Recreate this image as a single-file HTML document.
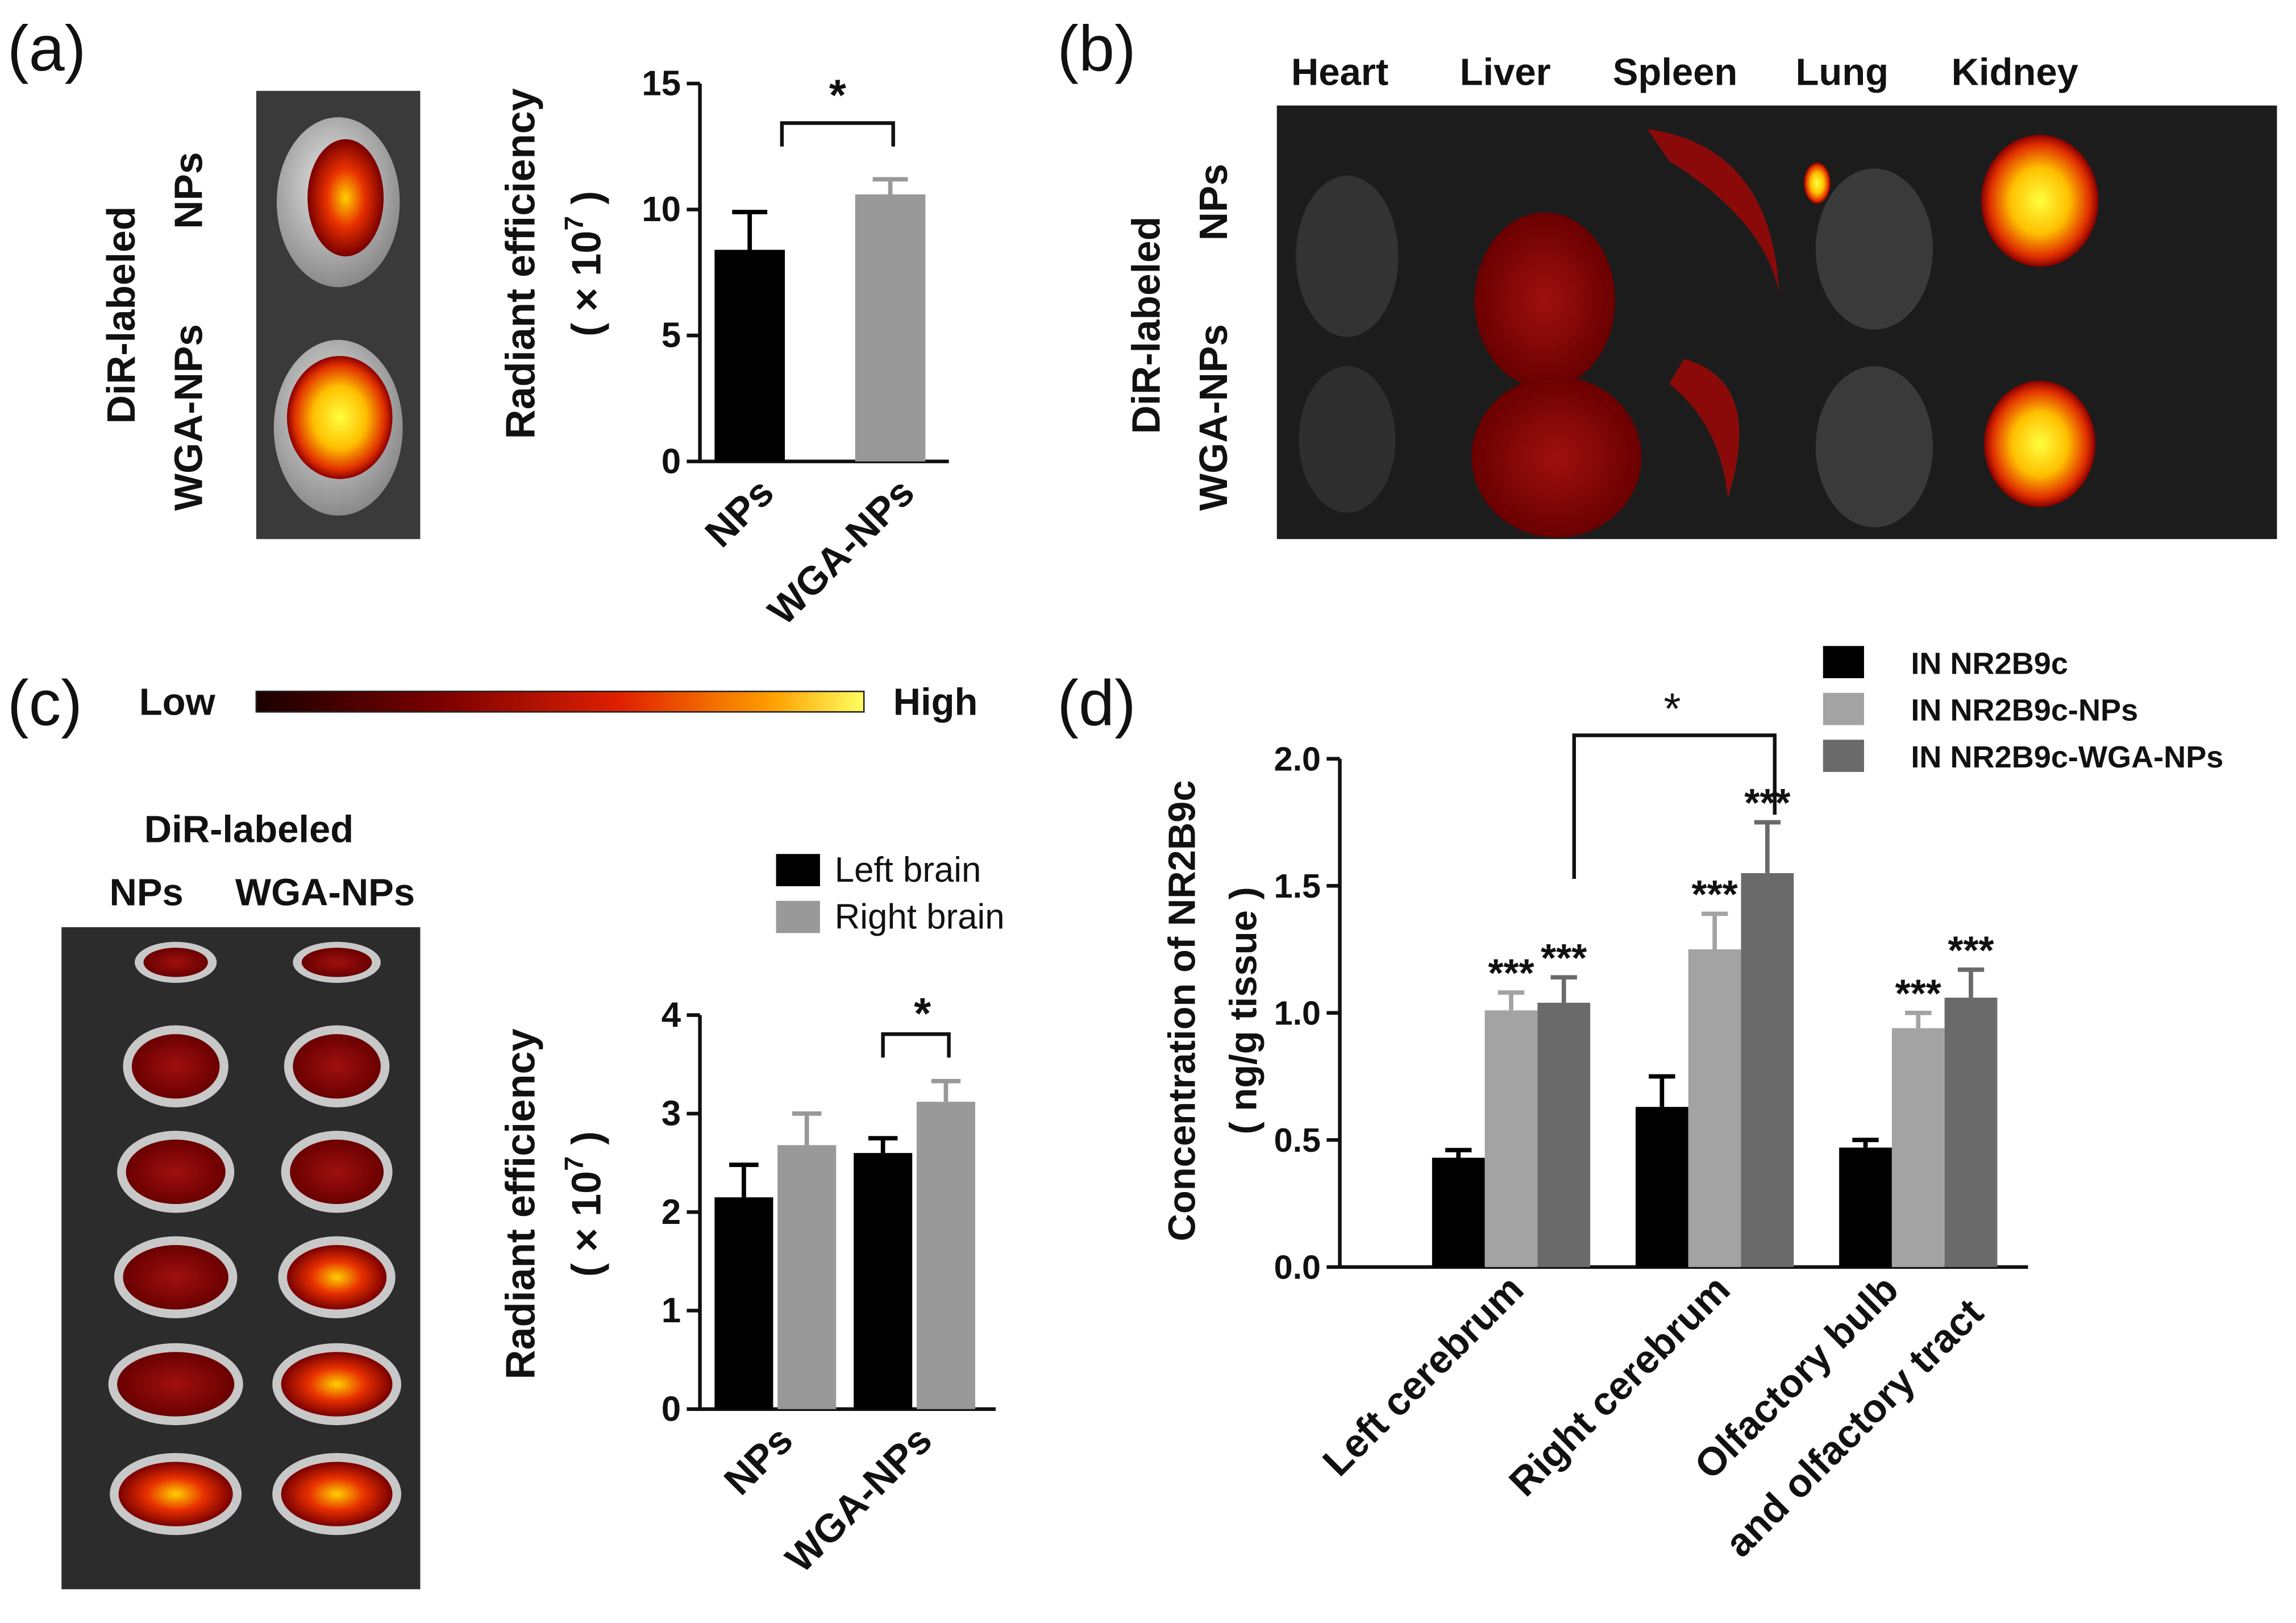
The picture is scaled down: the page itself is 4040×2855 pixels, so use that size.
<!DOCTYPE html>
<html><head><meta charset="utf-8">
<style>
html,body{margin:0;padding:0;background:#fff;}
svg{display:block;}
text{font-family:"Liberation Sans",Arial,sans-serif;fill:#111;}
.b{font-weight:bold;}
</style></head>
<body>
<svg id="fig" width="4040" height="2855" viewBox="0 0 1568 1108" xmlns="http://www.w3.org/2000/svg">
<defs>
<radialGradient id="hot" cx="50%" cy="50%" r="50%"><stop offset="0" stop-color="#ffff40"/><stop offset="0.5" stop-color="#ffc000"/><stop offset="0.85" stop-color="#e03000"/><stop offset="1" stop-color="#8a0000"/></radialGradient>
<radialGradient id="hot2" cx="50%" cy="50%" r="50%"><stop offset="0" stop-color="#ffd000"/><stop offset="0.5" stop-color="#e83000"/><stop offset="1" stop-color="#7a0000"/></radialGradient>
<radialGradient id="red" cx="50%" cy="50%" r="50%"><stop offset="0" stop-color="#a01010"/><stop offset="1" stop-color="#6a0000"/></radialGradient>
<radialGradient id="grey" cx="45%" cy="40%" r="60%"><stop offset="0" stop-color="#e8e8e8"/><stop offset="1" stop-color="#8a8a8a"/></radialGradient>
<linearGradient id="cbar" x1="0" x2="1"><stop offset="0" stop-color="#1a0000"/><stop offset="0.3" stop-color="#7a0000"/><stop offset="0.6" stop-color="#e02000"/><stop offset="0.85" stop-color="#ffa000"/><stop offset="1" stop-color="#ffff60"/></linearGradient>
</defs>

<!-- Panel a -->
<text x="5" y="48" font-size="44">(a)</text>
<g>
<rect x="175" y="62" width="112" height="306" fill="#3a3a3a"/>
<ellipse cx="231" cy="138" rx="42" ry="58" fill="url(#grey)"/>
<ellipse cx="236" cy="135" rx="26" ry="40" fill="url(#hot2)"/>
<ellipse cx="231" cy="292" rx="44" ry="60" fill="url(#grey)"/>
<ellipse cx="232" cy="285" rx="36" ry="42" fill="url(#hot)"/>
</g>
<text class="b" font-size="27" transform="translate(92,215) rotate(-90)" text-anchor="middle">DiR-labeled</text>
<text class="b" font-size="27" transform="translate(138,130) rotate(-90)" text-anchor="middle">NPs</text>
<text class="b" font-size="27" transform="translate(138,285) rotate(-90)" text-anchor="middle">WGA-NPs</text>
<g id="chartA"></g>

<!-- Panel b -->
<text x="722" y="48" font-size="44">(b)</text>
<g class="b" font-size="26" text-anchor="middle">
<text x="915" y="58" class="b">Heart</text><text x="1028" y="58" class="b">Liver</text><text x="1144" y="58" class="b">Spleen</text><text x="1258" y="58" class="b">Lung</text><text x="1376" y="58" class="b">Kidney</text>
</g>
<text class="b" font-size="27" transform="translate(792,222) rotate(-90)" text-anchor="middle">DiR-labeled</text>
<text class="b" font-size="27" transform="translate(838,138) rotate(-90)" text-anchor="middle">NPs</text>
<text class="b" font-size="27" transform="translate(838,285) rotate(-90)" text-anchor="middle">WGA-NPs</text>
<g>
<rect x="872" y="72" width="683" height="296" fill="#1c1c1c"/>
<ellipse cx="920" cy="175" rx="35" ry="55" fill="#333"/>
<ellipse cx="920" cy="300" rx="33" ry="50" fill="#2e2e2e"/>
<ellipse cx="1055" cy="205" rx="48" ry="60" fill="url(#red)"/>
<ellipse cx="1063" cy="312" rx="58" ry="55" fill="url(#red)"/>
<path d="M1125,88 Q1210,100 1215,200 Q1205,150 1140,110 Z" fill="#8a0a0a"/>
<path d="M1150,245 Q1205,260 1180,340 Q1175,290 1140,262 Z" fill="#8a0a0a"/>
<ellipse cx="1280" cy="170" rx="40" ry="55" fill="#3a3a3a"/>
<ellipse cx="1280" cy="305" rx="40" ry="55" fill="#3a3a3a"/>
<ellipse cx="1241" cy="125" rx="9" ry="14" fill="url(#hot)"/>
<ellipse cx="1393" cy="137" rx="40" ry="45" fill="url(#hot)"/>
<ellipse cx="1393" cy="303" rx="38" ry="43" fill="url(#hot)"/>
</g>

<!-- Panel c -->
<text x="5" y="495" font-size="44">(c)</text>
<text class="b" x="95" y="488" font-size="26">Low</text>
<rect x="175" y="472" width="415" height="14" fill="url(#cbar)" stroke="#222" stroke-width="1"/>
<text class="b" x="610" y="488" font-size="26">High</text>
<text class="b" x="170" y="575" font-size="26" text-anchor="middle">DiR-labeled</text>
<text class="b" x="100" y="618" font-size="26" text-anchor="middle">NPs</text>
<text class="b" x="222" y="618" font-size="26" text-anchor="middle">WGA-NPs</text>
<g id="slices"><rect x="42" y="633" width="245" height="452" fill="#2c2c2c"/></g>
<g id="chartC"></g>

<!-- Panel d -->
<text x="722" y="495" font-size="44">(d)</text>
<g id="chartD"></g>
</svg>
<script>
const NS="http://www.w3.org/2000/svg";
function mk(p,tag,at,txt){const e=document.createElementNS(NS,tag);for(const k in at)e.setAttribute(k,at[k]);if(txt!==undefined)e.textContent=txt;p.appendChild(e);return e;}

// brain slices
const sl=document.getElementById('slices');
const sliceRows=[657,728,800,872,945,1020];
const sliceW=[[28,36,40,42,46,45],[30,36,38,40,44,44]];
const sliceFill=['url(#red)','url(#red)','url(#red)','url(#red)','url(#red)','url(#hot2)'];
sliceRows.forEach((y,i)=>{[120,230].forEach((x,j)=>{
 const o=mk(sl,'ellipse',{cx:x,cy:y,rx:sliceW[j][i],ry:i===0?14:28,fill:'#c8c8c8'});
 
 const f=mk(sl,'ellipse',{cx:x,cy:y,rx:sliceW[j][i]-6,ry:i===0?10:22,fill:(j===1&&i>=3)?'url(#hot2)':sliceFill[i]});
 
});});

// Chart A data
const aCats=['NPs','WGA-NPs'];
const aVals=[8.4,10.6];
const aErr=[1.5,0.6];
const aTicks=[0,5,10,15];
// Chart C data
const cCats=['NPs','WGA-NPs'];
const cLeft=[2.15,2.6];
const cLeftErr=[0.33,0.15];
const cRight=[2.68,3.12];
const cRightErr=[0.32,0.21];
const cTicks=[0,1,2,3,4];
// Chart D data
const dCats=['Left cerebrum','Right cerebrum','Olfactory bulb'];
const dS1=[0.43,0.63,0.47];
const dS1Err=[0.03,0.12,0.03];
const dS2=[1.01,1.25,0.94];
const dS2Err=[0.07,0.14,0.06];
const dS3=[1.04,1.55,1.06];
const dS3Err=[0.10,0.20,0.11];
const dTicks=[0,0.5,1.0,1.5,2.0];
const dTickLabels=['0.0','0.5','1.0','1.5','2.0'];

function axisY(g,x0,yf,ticks,labels,fs){
 const l=mk(g,'line',{x1:x0,x2:x0,y1:yf(ticks[0])+1,y2:yf(ticks[ticks.length-1]),stroke:'#111','stroke-width':2.5});
 
 ticks.forEach((t,i)=>{
  const tk=mk(g,'line',{x1:x0-9,x2:x0,y1:yf(t),y2:yf(t),stroke:'#111','stroke-width':2.5});
  
  const tx=mk(g,'text',{x:x0-13,y:yf(t)+8,'font-size':fs,'text-anchor':'end','class':'b'},labels?labels[i]:String(t));
  
 });
}
function bar(g,x,w,yf,v,e,fill,name){
 const r=mk(g,'rect',{x:x,y:yf(v),width:w,height:yf(0)-yf(v),fill:fill});
 
 const c=x+w/2;
 const el=mk(g,'path',{d:`M${c},${yf(v)} V${yf(v+e)} M${c-w*0.25},${yf(v+e)} H${c+w*0.25}`,stroke:fill,'stroke-width':3,fill:'none'});
 
}
function xlabel(g,x,y,t,fs){
 const tx=mk(g,'text',{transform:`translate(${x},${y}) rotate(-45)`,'font-size':fs,'text-anchor':'end','class':'b'},t);
 
}
function ylab(g,x,y,t,fs){
 const tx=mk(g,'text',{transform:`translate(${x},${y}) rotate(-90)`,'font-size':fs,'text-anchor':'middle','class':'b'},t);
 
 return tx;
}

// Chart A
(function(){
 const g=document.getElementById('chartA');
 const yf=v=>315-v*(315-57)/15;
 axisY(g,478,yf,aTicks,null,24);
 const xa=mk(g,'line',{x1:477,x2:648,y1:315,y2:315,stroke:'#111','stroke-width':2.5});
 
 const xs=[488,584];const cols=['#000','#999'];
 aCats.forEach((c,i)=>{bar(g,xs[i],48,yf,aVals[i],aErr[i],cols[i],'bar-'+c.toLowerCase());
  xlabel(g,xs[i]+42,338,c,27);});
 ylab(g,365,180,'Radiant efficiency',28);
 const t=ylab(g,410,180,'( × 10',28);mk(t,'tspan',{dy:-12,'font-size':18},'7');mk(t,'tspan',{dy:12},' )');
 const br=mk(g,'path',{d:'M534,100 V84 H610 V100',stroke:'#111','stroke-width':2.5,fill:'none'});
 
 const st=mk(g,'text',{x:572,y:75,'font-size':30,'text-anchor':'middle','class':'b'},'*');
 
})();

// Chart C
(function(){
 const g=document.getElementById('chartC');
 const yf=v=>962-v*(962-693)/4;
 axisY(g,478,yf,cTicks,null,24);
 const xa=mk(g,'line',{x1:477,x2:680,y1:962,y2:962,stroke:'#111','stroke-width':2.5});
 
 const gx=[488,583];
 cCats.forEach((c,i)=>{
  bar(g,gx[i],40,yf,cLeft[i],cLeftErr[i],'#000','bar-left-'+c.toLowerCase());
  bar(g,gx[i]+43,40,yf,cRight[i],cRightErr[i],'#999','bar-right-'+c.toLowerCase());
  xlabel(g,gx[i]+55,985,c,27);
 });
 ylab(g,365,822,'Radiant efficiency',28);
 const t=ylab(g,410,822,'( × 10',28);mk(t,'tspan',{dy:-12,'font-size':18},'7');mk(t,'tspan',{dy:12},' )');
 const l1=mk(g,'rect',{x:530,y:583,width:30,height:22,fill:'#000'});
 const t1=mk(g,'text',{x:570,y:602,'font-size':24},'Left brain');
 const l2=mk(g,'rect',{x:530,y:615,width:30,height:22,fill:'#999'});
 const t2=mk(g,'text',{x:570,y:634,'font-size':24},'Right brain');
 const br=mk(g,'path',{d:'M603,722 V706 H648 V722',stroke:'#111','stroke-width':2.5,fill:'none'});
 
 const st=mk(g,'text',{x:630,y:702,'font-size':30,'text-anchor':'middle','class':'b'},'*');
 
})();

// Chart D
(function(){
 const g=document.getElementById('chartD');
 const yf=v=>865-v*(865-518)/2;
 axisY(g,915,yf,dTicks,dTickLabels,23);
 const xa=mk(g,'line',{x1:914,x2:1385,y1:865,y2:865,stroke:'#111','stroke-width':2.5});
 
 const gx=[978,1117,1256];const w=36;
 dCats.forEach((c,i)=>{
  const n=c.toLowerCase().replace(/ /g,'-');
  bar(g,gx[i],w,yf,dS1[i],dS1Err[i],'#000','bar-in-'+n);
  bar(g,gx[i]+w,w,yf,dS2[i],dS2Err[i],'#a3a3a3','bar-nps-'+n);
  bar(g,gx[i]+2*w,w,yf,dS3[i],dS3Err[i],'#6a6a6a','bar-wga-'+n);
  [[dS2,dS2Err,1],[dS3,dS3Err,2]].forEach(([s,e,k])=>{
   const st=mk(g,'text',{x:gx[i]+k*w+w/2,y:yf(s[i]+e[i])-4,'font-size':27,'text-anchor':'middle','class':'b'},'***');
   
  });
 });
 xlabel(g,1042,882,'Left cerebrum',27);
 xlabel(g,1183,882,'Right cerebrum',27);
 xlabel(g,1298,882,'Olfactory bulb',27);
 xlabel(g,1356,898,'and olfactory tract',27);
 ylab(g,816,690,'Concentration of NR2B9c',26);
 ylab(g,858,690,'( ng/g tissue )',26);
 const br=mk(g,'path',{d:`M1075,600 V502 H1212 V${yf(1.78)}`,stroke:'#111','stroke-width':2.5,fill:'none'});
 
 const s=mk(g,'text',{x:1142,y:494,'font-size':30,'text-anchor':'middle'},'*');
 
 const lg=[['#000','IN NR2B9c'],['#a3a3a3','IN NR2B9c-NPs'],['#6a6a6a','IN NR2B9c-WGA-NPs']];
 lg.forEach((l,i)=>{
  const r=mk(g,'rect',{x:1245,y:441+i*32,width:28,height:22,fill:l[0]});
  
  const t=mk(g,'text',{x:1305,y:460+i*32,'font-size':21,'class':'b'},l[1]);
  
 });
})();
</script>
</body></html>
